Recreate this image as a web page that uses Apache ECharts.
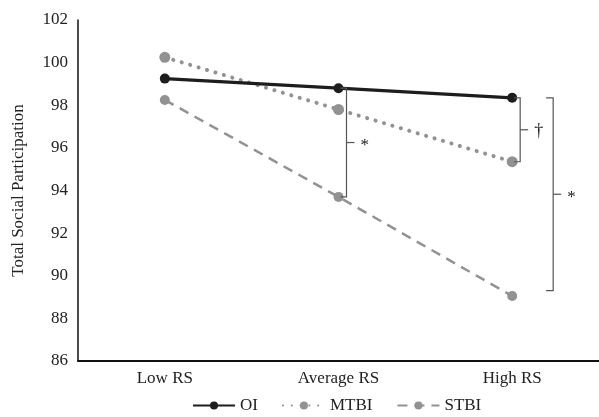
<!DOCTYPE html>
<html>
<head>
<meta charset="utf-8">
<script src="https://cdn.jsdelivr.net/npm/echarts@6/dist/echarts.min.js"></script>
<style>
html,body{margin:0;padding:0;background:#fff;}
#main{width:599px;height:417px;}
</style>
</head>
<body>
<div id="main"></div>
<script>
// ---- data ----
const categories = ['Low RS', 'Average RS', 'High RS'];
const seriesNames = ['OI', 'MTBI', 'STBI'];
const oiValues = [99.25, 98.8, 98.35];
const mtbiValues = [100.25, 97.8, 95.35];
const stbiValues = [98.25, 93.7, 89.05];
const yTicks = { min: 86, max: 102, step: 2 };
const axisTitle = 'Total Social Participation';
// significance brackets: category index, upper value, lower value, marker
const bracketCats = [1, 2, 2];
const bracketTop = [98.8, 98.35, 98.35];
const bracketBottom = [93.7, 95.35, 89.3];
const bracketMarks = ['*', '\u2020', '*'];

// ---- styles (pixel offsets for bracket drawing) ----
const bracketOffsets = [8, 8, 41];
const bracketEnds = [6, 6, 7];

const serif = '"Liberation Serif", "DejaVu Serif", serif';
const chart = echarts.init(document.getElementById('main'), null, { renderer: 'canvas' });

const bracketData = bracketCats.map((c, i) => [c, bracketTop[i], bracketBottom[i], i]);

chart.setOption({
  animation: false,
  backgroundColor: '#fff',
  grid: { left: 78, right: 0, top: 20, bottom: 56 },
  legend: {
    left: 187, top: 392,
    itemWidth: 42, itemHeight: 10, itemGap: 24,
    textStyle: { fontFamily: serif, fontSize: 17, color: '#222' },
    data: seriesNames
  },
  xAxis: {
    type: 'category',
    data: categories,
    boundaryGap: true,
    axisLine: { lineStyle: { color: '#111', width: 2 } },
    axisTick: { show: false },
    axisLabel: { fontFamily: serif, fontSize: 17, color: '#222', margin: 9 }
  },
  yAxis: {
    type: 'value',
    min: yTicks.min, max: yTicks.max, interval: yTicks.step,
    name: axisTitle,
    nameLocation: 'middle',
    nameGap: 51,
    nameTextStyle: { fontFamily: serif, fontSize: 17, color: '#222' },
    axisLine: { show: true, lineStyle: { color: '#111', width: 1.5 } },
    axisTick: { show: false },
    splitLine: { show: false },
    axisLabel: { fontFamily: serif, fontSize: 17, color: '#222', margin: 10 }
  },
  series: [
    {
      name: 'STBI', type: 'line', data: stbiValues,
      symbol: 'circle', symbolSize: 10,
      itemStyle: { color: '#929292' },
      lineStyle: { color: '#929292', width: 2.5, type: [10, 7] },
      z: 2
    },
    {
      name: 'MTBI', type: 'line', data: mtbiValues,
      symbol: 'circle', symbolSize: 11,
      itemStyle: { color: '#929292' },
      lineStyle: { color: '#929292', width: 4, type: [0.1, 8.7], cap: 'round' },
      z: 3
    },
    {
      name: 'OI', type: 'line', data: oiValues,
      symbol: 'circle', symbolSize: 10,
      itemStyle: { color: '#1e1c1c' },
      lineStyle: { color: '#1e1c1c', width: 3.2 },
      z: 4
    },
    {
      type: 'custom',
      name: 'brackets',
      data: bracketData,
      silent: true,
      z: 5,
      clip: false,
      renderItem: function (params, api) {
        const i = params.dataIndex;
        const top = api.coord([api.value(0), api.value(1)]);
        const bot = api.coord([api.value(0), api.value(2)]);
        const x = top[0] + bracketOffsets[i];
        const e = bracketEnds[i];
        const midY = (top[1] + bot[1]) / 2;
        const ls = { stroke: '#555', lineWidth: 1.2, fill: null };
        return {
          type: 'group',
          children: [
            { type: 'polyline', shape: { points: [[x - e, top[1]], [x, top[1]], [x, bot[1]], [x - e, bot[1]]] }, style: ls },
            { type: 'line', shape: { x1: x, y1: midY, x2: x + 8, y2: midY }, style: ls },
            { type: 'text', style: { text: bracketMarks[i], x: x + 14, y: midY + (bracketMarks[i] === '*' ? 3 : 2),
                textVerticalAlign: 'middle', textAlign: 'left',
                font: (bracketMarks[i] === '*' ? '17px ' : '18px ') + serif, fill: '#222' } }
          ]
        };
      }
    }
  ]
});
</script>
</body>
</html>
